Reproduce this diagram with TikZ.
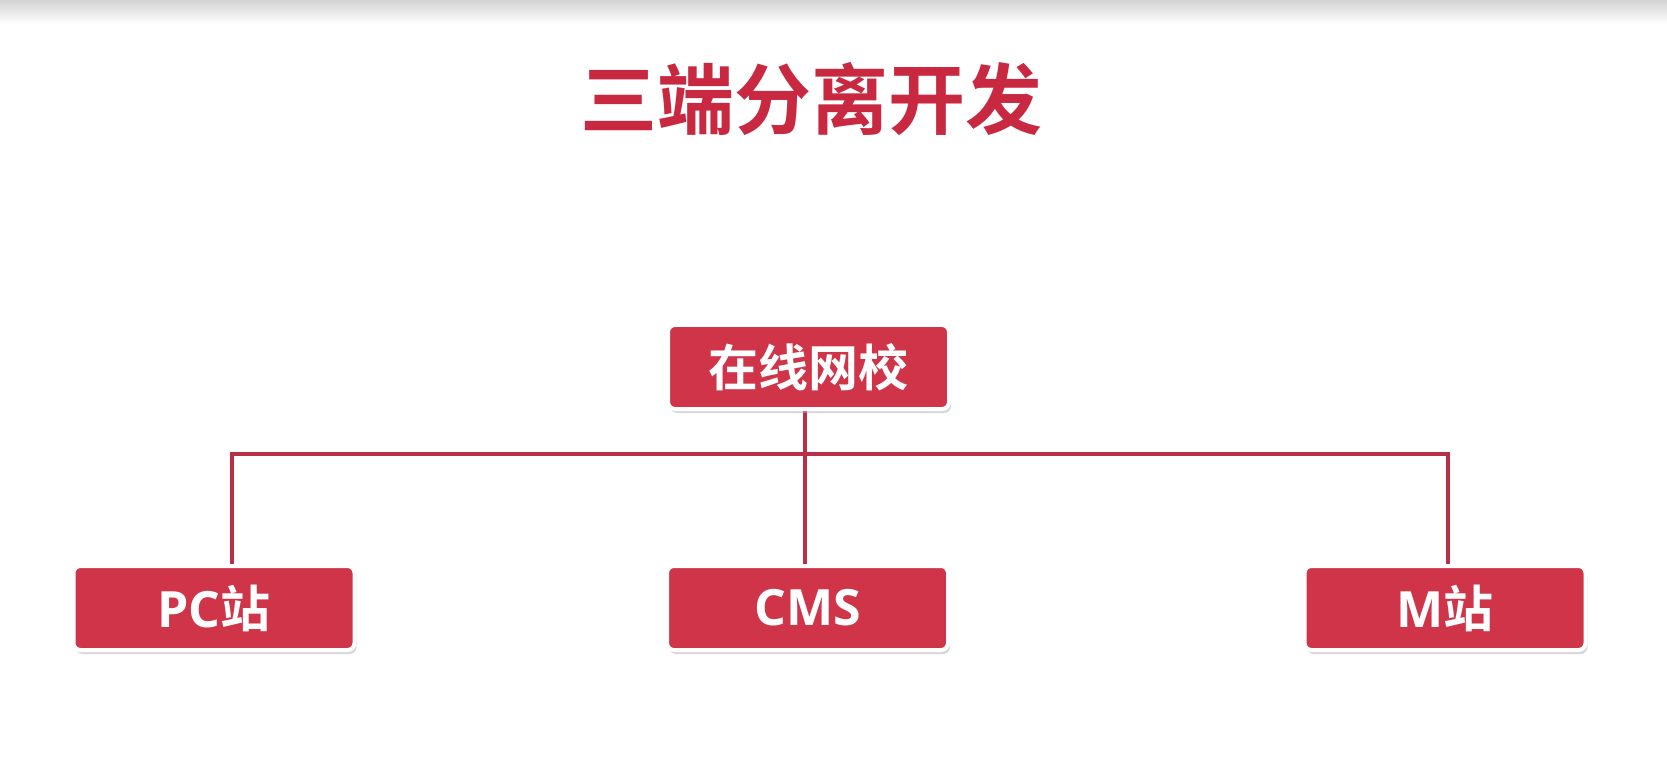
\documentclass[tikz,border=0pt]{standalone}
\usepackage{fontspec}
\setmainfont{Noto Sans CJK SC}[BoldFont={Noto Sans CJK SC Bold}]
\newfontfamily\latinb{Open Sans}[BoldFont={Open Sans Bold}]
\usetikzlibrary{shadows,backgrounds}
\definecolor{boxred}{RGB}{208,52,72}
\definecolor{linered}{RGB}{184,48,72}
\definecolor{titlered}{RGB}{200,40,64}
\tikzset{
  redbox/.style={rectangle, rounded corners=7pt, fill=boxred, draw=white, line width=4pt,
    minimum width=281pt, minimum height=84pt, inner sep=0pt, text=white,
    font=\fontsize{50}{50}\selectfont\bfseries,
    drop shadow={shadow xshift=2pt, shadow yshift=-4pt, fill=black!35, opacity=0.45}},
  conn/.style={draw=linered, line width=4pt},
  titletext/.style={text=titlered, font=\fontsize{77}{77}\selectfont\bfseries}
}
\begin{document}
\begin{tikzpicture}[x=1pt,y=-1pt]
\useasboundingbox (0,0) rectangle (1667,783);
\shade[top color=black!17, bottom color=white] (0,0) rectangle (1667,24);
\node[titletext] (title) at (811,99) {三端分离开发};
\node[redbox] (top) at (808.5,367) {在线网校};
\node[redbox] (pc) at (214,608) {{\latinb\bfseries PC}站};
\node[redbox] (cms) at (807.5,608) {{\latinb\bfseries CMS}};
\node[redbox] (m) at (1445,608) {{\latinb\bfseries M}站};
\coordinate (jL) at (232,454);
\coordinate (jR) at (1448,454);
\begin{pgfonlayer}{background}
\draw[conn] (top.south -| 805,0) -- (cms.north -| 805,0);
\draw[conn] (pc.north -| jL) -- (jL) -- (jR) -- (m.north -| jR);
\end{pgfonlayer}
\end{tikzpicture}
\end{document}
